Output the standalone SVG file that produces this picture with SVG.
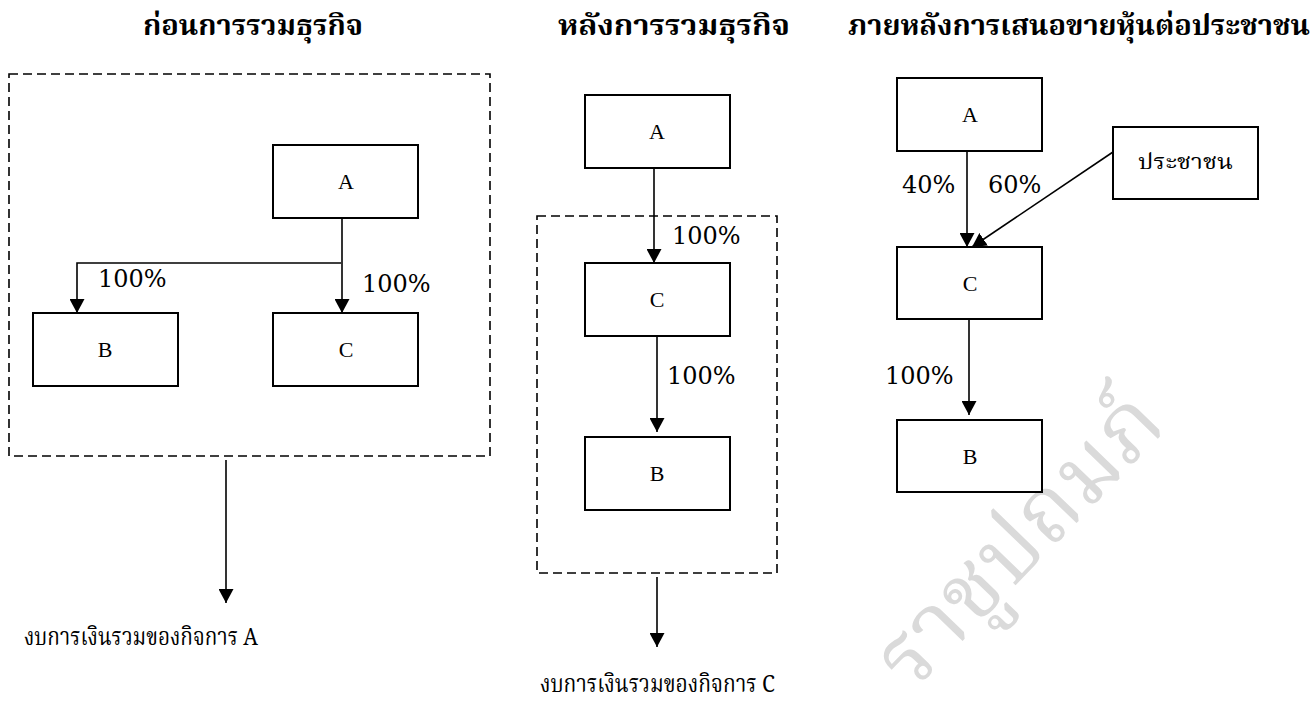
<svg xmlns="http://www.w3.org/2000/svg" width="1315" height="704" viewBox="0 0 1315 704">
<defs>
<marker id="ah" markerUnits="userSpaceOnUse" markerWidth="15" markerHeight="15" refX="14" refY="7.5" orient="auto">
<path d="M0,0 L14,7.5 L0,15 z" fill="#000"/>
</marker>
<style>
.box{fill:#fff;stroke:#000;stroke-width:2}
.dash{fill:none;stroke:#000;stroke-width:1.6;stroke-dasharray:9 5}
.ln{fill:none;stroke:#000;stroke-width:1.6}
.lbl{font-family:"Liberation Serif","Times New Roman",serif;font-size:22px;fill:#000;text-anchor:middle}
.pct{font-family:"DejaVu Serif","Liberation Serif",serif;font-size:24px;fill:#000}
.th{font-family:"Noto Serif Thai","Noto Sans Thai Looped","Noto Sans Thai","Loma","DejaVu Sans",sans-serif;fill:#000}
.title{font-weight:bold;font-size:28px}
.wm{font-family:"Noto Serif Thai","Noto Sans Thai Looped","Noto Sans Thai","DejaVu Sans",sans-serif;font-size:90px;fill:#dadada}
</style>
</defs>
<rect width="1315" height="704" fill="#fff"/>
<g id="watermark">
<text class="wm" x="0" y="0" text-anchor="middle" transform="translate(1040,560) rotate(-46)">ราชูปถมภ์</text>
</g>
<g id="titles">
<text class="th title" x="143" y="35" textLength="220" lengthAdjust="spacingAndGlyphs">ก่อนการรวมธุรกิจ</text>
<text class="th title" x="558" y="35" textLength="232" lengthAdjust="spacingAndGlyphs">หลังการรวมธุรกิจ</text>
<text class="th title" x="848" y="35" textLength="462" lengthAdjust="spacingAndGlyphs">ภายหลังการเสนอขายหุ้นต่อประชาชน</text>
</g>
<g id="groups">
<rect id="group-before" class="dash" x="9" y="74" width="481" height="382"/>
<rect id="group-after" class="dash" x="537" y="216" width="240" height="357"/>
</g>
<g id="connectors">
<line class="ln" x1="342" y1="218" x2="342" y2="313" marker-end="url(#ah)"/>
<path class="ln" d="M341,263 H77 V313" marker-end="url(#ah)"/>
<line class="ln" x1="226" y1="460" x2="226" y2="603" marker-end="url(#ah)"/>
<line class="ln" x1="654" y1="168" x2="654" y2="263" marker-end="url(#ah)"/>
<line class="ln" x1="657" y1="336" x2="657" y2="432" marker-end="url(#ah)"/>
<line class="ln" x1="657" y1="577" x2="657" y2="647" marker-end="url(#ah)"/>
<line class="ln" x1="967" y1="151" x2="967" y2="247" marker-end="url(#ah)"/>
<line class="ln" x1="1113" y1="152" x2="972" y2="247" marker-end="url(#ah)"/>
<line class="ln" x1="969" y1="319" x2="969" y2="415" marker-end="url(#ah)"/>
<text class="pct" x="98" y="287">100%</text>
<text class="pct" x="362" y="292">100%</text>
<text class="pct" x="672" y="244">100%</text>
<text class="pct" x="667" y="384">100%</text>
<text class="pct" x="902" y="193">40%</text>
<text class="pct" x="988" y="193">60%</text>
<text class="pct" x="885" y="384">100%</text>
</g>
<g id="before-A"><rect class="box" x="273" y="145" width="145" height="73"/><text class="lbl" x="346" y="189">A</text></g>
<g id="before-B"><rect class="box" x="33" y="313" width="145" height="73"/><text class="lbl" x="105" y="357">B</text></g>
<g id="before-C"><rect class="box" x="273" y="313" width="145" height="73"/><text class="lbl" x="346" y="357">C</text></g>
<g id="after-A"><rect class="box" x="585" y="95" width="145" height="73"/><text class="lbl" x="657" y="139">A</text></g>
<g id="after-C"><rect class="box" x="585" y="263" width="145" height="73"/><text class="lbl" x="657" y="307">C</text></g>
<g id="after-B"><rect class="box" x="585" y="437" width="145" height="73"/><text class="lbl" x="657" y="481">B</text></g>
<g id="ipo-A"><rect class="box" x="897" y="78" width="145" height="73"/><text class="lbl" x="970" y="122">A</text></g>
<g id="ipo-public"><rect class="box" x="1113" y="127" width="145" height="72"/><text class="th" x="1138" y="169" font-size="22" textLength="95" lengthAdjust="spacingAndGlyphs">ประชาชน</text></g>
<g id="ipo-C"><rect class="box" x="897" y="247" width="145" height="72"/><text class="lbl" x="970" y="291">C</text></g>
<g id="ipo-B"><rect class="box" x="897" y="420" width="145" height="72"/><text class="lbl" x="970" y="464">B</text></g>
<g id="results">
<text class="th" x="24" y="645" font-size="24" textLength="234" lengthAdjust="spacingAndGlyphs">งบการเงินรวมของกิจการ A</text>
<text class="th" x="540" y="692" font-size="24" textLength="235" lengthAdjust="spacingAndGlyphs">งบการเงินรวมของกิจการ C</text>
</g>
</svg>
